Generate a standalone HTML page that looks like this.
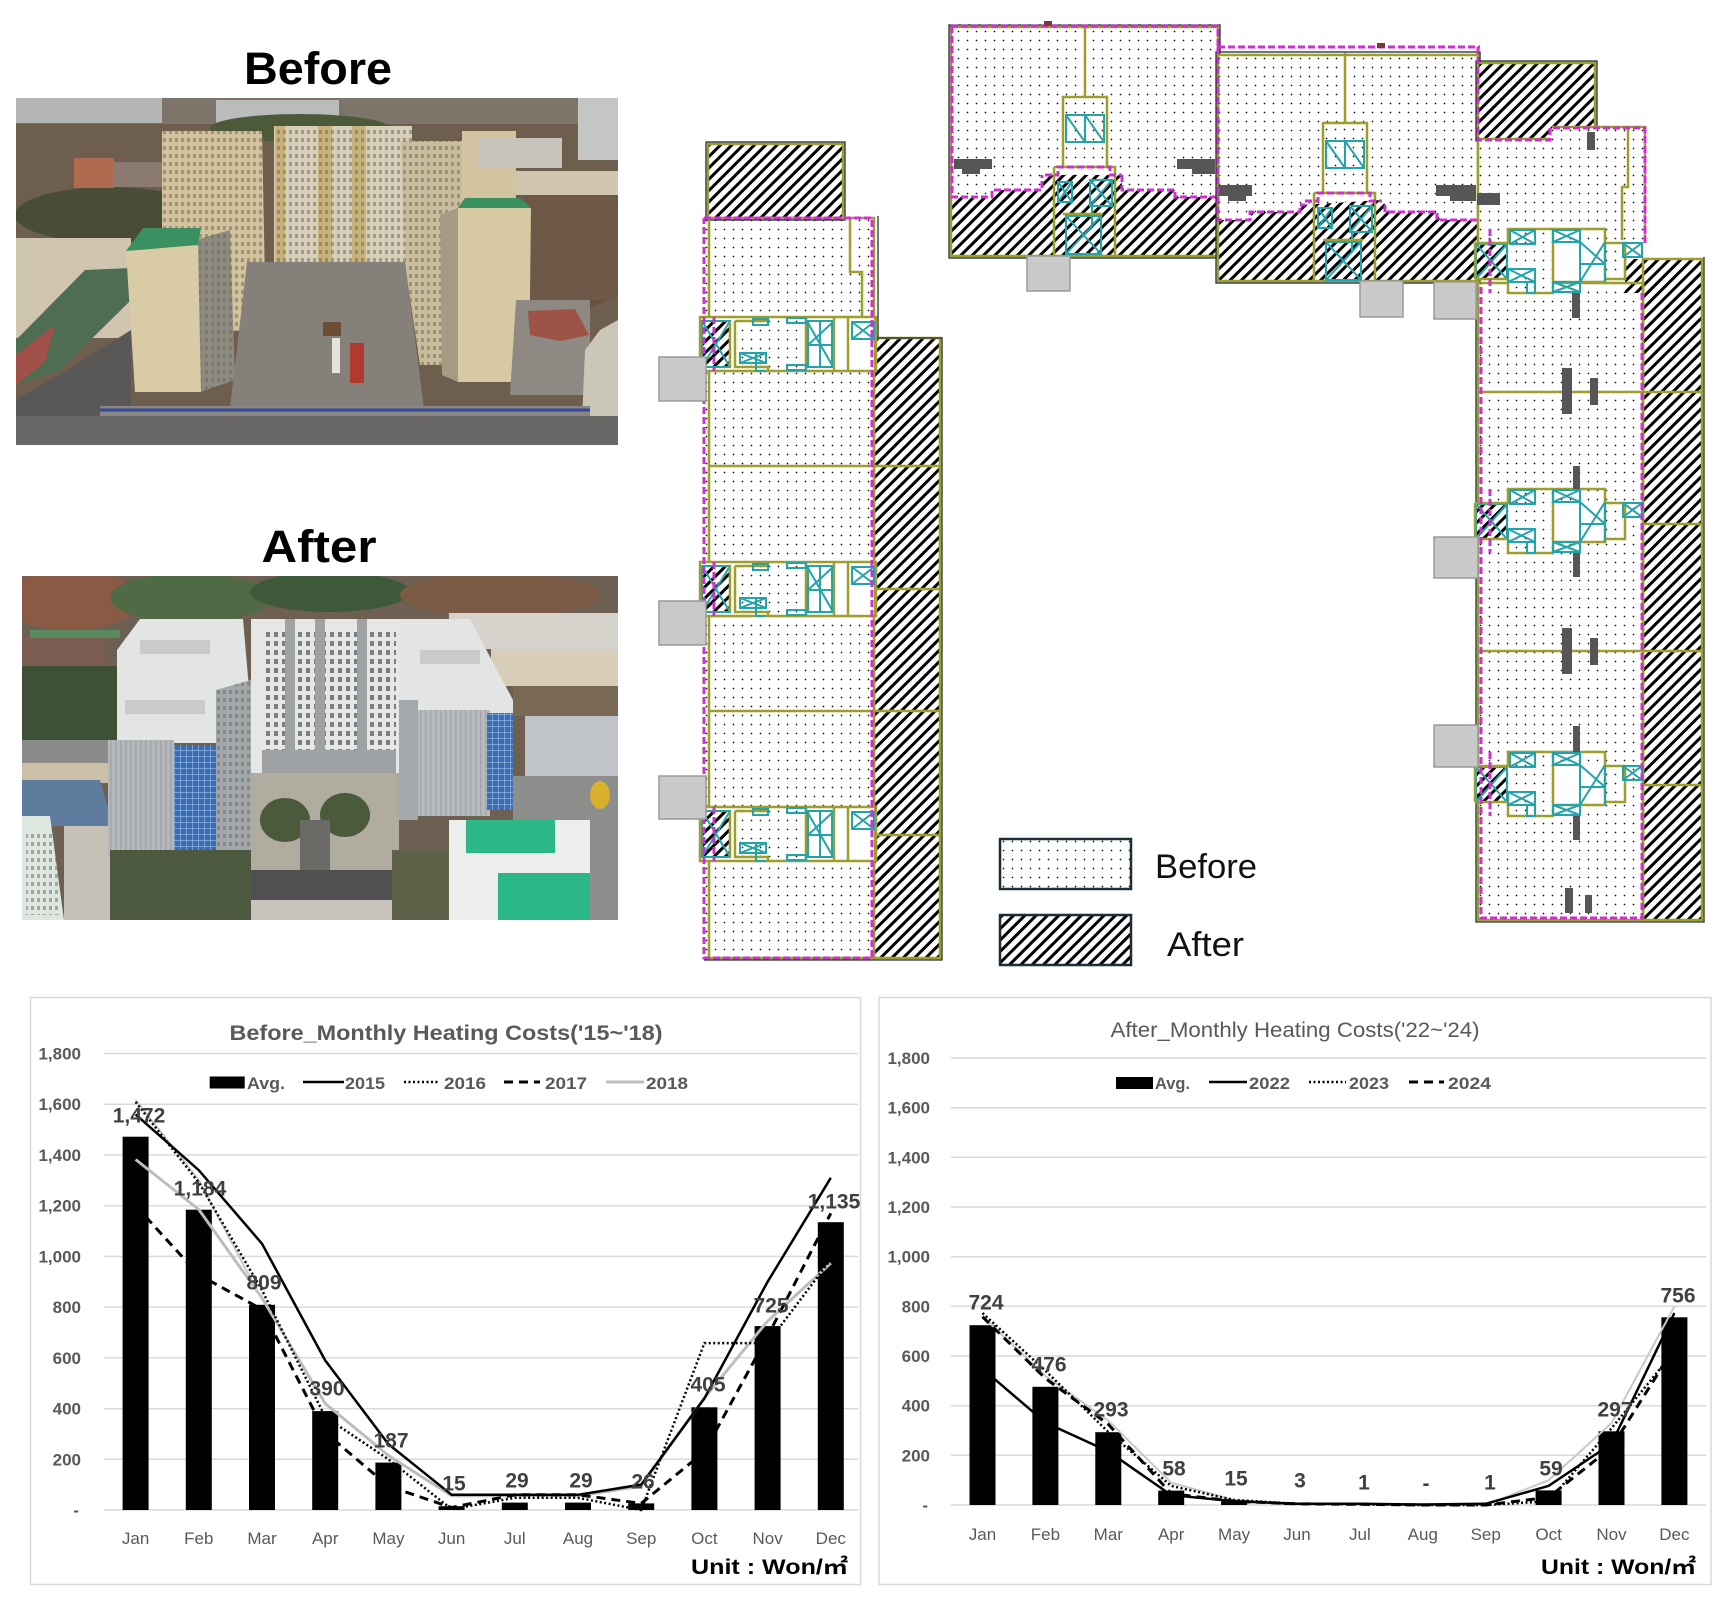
<!DOCTYPE html>
<html><head><meta charset="utf-8"><style>
html,body{margin:0;padding:0;background:#fff;}
svg{display:block;}
.ol{fill:none;stroke:#9e9e2c;stroke-width:2.5;}
.dk{fill:none;stroke:#1e3036;stroke-width:1.3;}
.mg{fill:none;stroke:#d02ed0;stroke-width:3;stroke-dasharray:7 3;}
.tl{fill:none;stroke:#23a3aa;stroke-width:2;}
.gb{fill:#c9c9c9;stroke:#9a9a9a;stroke-width:1.5;}
.br{fill:#565656;}
.yl{font-family:"Liberation Sans",sans-serif;font-size:17px;font-weight:bold;fill:#595959;text-anchor:end;}
.ml{font-family:"Liberation Sans",sans-serif;font-size:17px;fill:#595959;text-anchor:middle;}
.vl{font-family:"Liberation Sans",sans-serif;font-size:21px;font-weight:bold;fill:#404040;text-anchor:middle;}
.lg{font-family:"Liberation Sans",sans-serif;font-size:17px;font-weight:bold;fill:#595959;}
.gr{stroke:#d9d9d9;stroke-width:1.5;}
</style></head><body>
<svg width="1723" height="1603" viewBox="0 0 1723 1603" xmlns="http://www.w3.org/2000/svg">
<defs>
<pattern id="dots" width="9" height="9" patternUnits="userSpaceOnUse"><rect width="9" height="9" fill="#fff"/><circle cx="4.5" cy="4.5" r="0.85" fill="#111"/></pattern>
<pattern id="hatch" width="8" height="8" patternUnits="userSpaceOnUse" patternTransform="rotate(45)"><rect width="8" height="8" fill="#fff"/><rect x="2.5" y="0" width="3" height="8" fill="#000"/></pattern>
<pattern id="winB" width="6" height="8" patternUnits="userSpaceOnUse"><rect x="1" y="2" width="3" height="4" fill="#6a6660" opacity="0.5"/></pattern>
<pattern id="winA" width="8" height="9" patternUnits="userSpaceOnUse"><rect x="2" y="2" width="4" height="5" fill="#4e5358" opacity="0.7"/></pattern>
<pattern id="winG" width="6" height="6" patternUnits="userSpaceOnUse"><rect x="0" y="0" width="6" height="1" fill="#9cc0e8" opacity="0.6"/><rect x="0" y="0" width="1" height="6" fill="#9cc0e8" opacity="0.6"/></pattern>
<pattern id="strp" width="5" height="10" patternUnits="userSpaceOnUse"><rect x="0" y="0" width="1.5" height="10" fill="#8f9397" opacity="0.5"/></pattern>
<clipPath id="cp1"><rect x="16" y="98" width="602" height="347"/></clipPath>
<clipPath id="cp2"><rect x="22" y="576" width="596" height="344"/></clipPath>

<g id="coreL">
 <rect x="700" y="0" width="174" height="54" fill="#fff"/>
 <path d="M735 4H768V0H806V54H768V50H735Z" fill="url(#dots)"/>
 <rect x="702" y="4" width="28" height="46" fill="url(#hatch)"/>
 <path class="tl" d="M702 4H730V50H702Z M702 4L730 50 M730 4L702 50"/>
 <path class="ol" d="M700 0H876V54H700Z M730 4V50 M735 4H768V0 M735 4V50H768V54 M806 0V54 M834 0V54 M848 0V54"/>
 <path class="tl" d="M740 36H766V46H740Z M740 36L766 46 M766 36L740 46 M756 36V54H766 M753 2H768V8H753Z M787 1H806V6H787Z M787 48H806V53H787Z"/>
 <path class="tl" d="M808 4H832V50H808Z M808 6L832 48 M808 28H832 M820 4V50 M808 28L832 6"/>
 <rect x="852" y="5" width="22" height="17" fill="#fff"/>
 <path class="tl" d="M852 5H874V22H852Z M852 5L874 22 M874 5L852 22"/>
 <path class="mg" d="M714 0V54"/>
</g>

<g id="coreR">
 <rect x="1475" y="14" width="150" height="36" fill="#fff"/>
 <path d="M1508 0H1553V64H1508Z" fill="url(#dots)"/>
 <rect x="1605" y="14" width="18" height="36" fill="url(#dots)"/>
 <rect x="1476" y="15" width="31" height="35" fill="url(#hatch)"/>
 <path class="tl" d="M1476 15H1507V50H1476Z M1476 15L1507 50 M1507 15L1476 50"/>
 <path class="ol" d="M1475 14H1508V0H1605V14H1625V50H1605V53H1553 M1475 50H1508V64H1553V53 M1553 0V53 M1605 14V50 M1475 14V50"/>
 <path class="tl" d="M1510 1H1535V15H1510Z M1510 1L1535 15 M1535 1L1510 15 M1508 40H1535V53H1508Z M1508 40L1535 53 M1535 40L1508 53 M1527 53V64H1535V53"/>
 <path class="tl" d="M1553 1H1580V13H1553Z M1553 1L1580 13 M1580 1L1553 13 M1553 53H1580V63H1553Z M1553 53L1580 63 M1580 53L1553 63 M1580 13V53 M1605 13V53 M1580 53L1605 13 M1580 35H1605 M1580 13L1605 35"/>
 <path class="tl" d="M1623 14H1642V28H1623Z M1623 14L1642 28 M1642 14L1623 28"/>
 <path class="mg" d="M1490 0V64"/>
</g>

<g id="coreT">
 <rect x="1063" y="97" width="44" height="70" fill="url(#dots)"/>
 <path class="ol" d="M1063 97H1107V167H1063Z M1085 27V97 M1054 167H1115V256 M1054 167V256"/>
 <path class="tl" d="M1066 115H1104V142H1066Z M1066 115L1085 142 M1085 115L1104 142 M1085 115V142 M1066 142H1104"/>
 <path class="tl" d="M1058 182H1072V202H1058Z M1058 182L1072 202 M1072 182L1058 202"/>
 <path class="tl" d="M1090 180H1112V206H1090Z M1090 180L1112 206 M1112 180L1090 206 M1092 206V225"/>
 <path class="ol" d="M1063 214H1103"/>
 <path class="tl" d="M1066 216H1101V254H1066Z M1066 216L1101 254 M1101 216L1066 254"/>
 <path class="mg" d="M1045 175H1058V167H1110V175H1122"/>
</g>
</defs>

<!-- ================= PHOTO TITLES ================= -->
<text x="318" y="84" text-anchor="middle" font-family="Liberation Sans, sans-serif" font-size="45" font-weight="bold" fill="#000" textLength="148" lengthAdjust="spacingAndGlyphs">Before</text>
<text x="319" y="562" text-anchor="middle" font-family="Liberation Sans, sans-serif" font-size="45" font-weight="bold" fill="#000" textLength="115" lengthAdjust="spacingAndGlyphs">After</text>

<!-- ================= BEFORE PHOTO ================= -->
<g clip-path="url(#cp1)">
 <rect x="16" y="98" width="602" height="347" fill="#6e5e4e"/>
 <rect x="16" y="98" width="602" height="26" fill="#7d746a"/>
 <rect x="16" y="98" width="146" height="25" fill="#b4b6b4"/>
 <rect x="216" y="100" width="123" height="23" fill="#b9bcba"/>
 <rect x="578" y="98" width="40" height="62" fill="#c4c6c4"/>
 <ellipse cx="110" cy="215" rx="95" ry="28" fill="#4a4d35"/>
 <ellipse cx="300" cy="128" rx="90" ry="14" fill="#4d5a3a"/>
 <ellipse cx="570" cy="260" rx="60" ry="50" fill="#6a5040"/>
 <rect x="74" y="158" width="40" height="30" fill="#b06a50"/>
 <rect x="114" y="162" width="52" height="25" fill="#8a7a70"/>
 <rect x="16" y="238" width="115" height="100" fill="#d0c5ae"/>
 <polygon points="16,340 85,270 131,268 131,300 60,370 16,385" fill="#4f6d52"/>
 <polygon points="16,355 55,325 45,362 16,385" fill="#a05048"/>
 <polygon points="16,400 80,362 131,330 131,420 16,445" fill="#595857"/>
 <polygon points="162,131 262,131 266,331 200,331 162,240" fill="#d2c39c"/>
 <polygon points="162,131 262,131 266,331 200,331 162,240" fill="url(#winB)"/>
 <polygon points="196,240 230,230 235,380 200,392" fill="#8d8a80"/>
 <polygon points="196,240 230,230 235,380 200,392" fill="url(#winB)"/>
 <polygon points="126,251 198,245 201,392 135,392" fill="#d8cba6"/>
 <polygon points="143,228 201,228 198,245 126,251" fill="#3a9060"/>
 <rect x="274" y="126" width="138" height="139" fill="#d8cfb8"/>
 <rect x="275" y="126" width="10" height="139" fill="#c9b27a"/>
 <rect x="318" y="126" width="14" height="139" fill="#c9b27a"/>
 <rect x="352" y="126" width="14" height="139" fill="#c9b27a"/>
 <rect x="274" y="126" width="138" height="139" fill="url(#winB)"/>
 <polygon points="401,141 462,141 462,365 420,365 405,265" fill="#c9bd9c"/>
 <polygon points="401,141 462,141 462,365 420,365 405,265" fill="url(#winB)"/>
 <rect x="462" y="131" width="54" height="70" fill="#d2c49e"/>
 <rect x="478" y="138" width="84" height="30" fill="#c8c4bc"/>
 <rect x="516" y="171" width="102" height="24" fill="#d0c6b0"/>
 <rect x="516" y="195" width="102" height="105" fill="#6e5848"/>
 <polygon points="440,215 458,208 458,382 442,375" fill="#a59b82"/>
 <polygon points="458,208 531,208 529,382 458,382" fill="#d6c9a4"/>
 <polygon points="465,198 520,198 531,208 458,208" fill="#3a9060"/>
 <polygon points="247,262 405,262 424,408 230,408" fill="#858079"/>
 <polygon points="516,300 590,300 590,395 510,395" fill="#8e8983"/>
 <polygon points="528,311 575,309 589,335 560,341 530,335" fill="#9d5346"/>
 <rect x="350" y="343" width="14" height="40" fill="#b13a2f"/>
 <rect x="332" y="338" width="8" height="35" fill="#e6e3dc"/>
 <rect x="323" y="322" width="18" height="14" fill="#6b4d35"/>
 <polygon points="600,330 618,320 618,445 581,445 585,350" fill="#cac7b8"/>
 <rect x="100" y="406" width="490" height="10" fill="#8a8681"/>
 <line x1="100" y1="410" x2="590" y2="410" stroke="#36489a" stroke-width="3"/>
 <rect x="16" y="416" width="602" height="29" fill="#6a6866"/>
</g>

<!-- ================= AFTER PHOTO ================= -->
<g clip-path="url(#cp2)">
 <rect x="22" y="576" width="596" height="344" fill="#6d6052"/>
 <ellipse cx="70" cy="600" rx="70" ry="30" fill="#8a5a45"/>
 <ellipse cx="190" cy="598" rx="80" ry="25" fill="#4f6a45"/>
 <ellipse cx="330" cy="592" rx="80" ry="20" fill="#3f5a3a"/>
 <ellipse cx="500" cy="595" rx="100" ry="22" fill="#7a5a45"/>
 <rect x="22" y="636" width="84" height="37" fill="#7a5c50"/>
 <rect x="30" y="630" width="90" height="8" fill="#5a8a60"/>
 <rect x="22" y="666" width="114" height="77" fill="#3e5035"/>
 <rect x="22" y="740" width="90" height="23" fill="#8a8a88"/>
 <rect x="22" y="763" width="90" height="20" fill="#cbbfa8"/>
 <polygon points="22,780 100,780 113,826 22,826" fill="#5e7c9e"/>
 <polygon points="64,826 113,826 110,920 64,920" fill="#c6c2b8"/>
 <polygon points="22,816 50,816 64,920 22,920" fill="#dde6df"/>
 <rect x="26" y="830" width="32" height="85" fill="url(#winB)"/>
 <polygon points="117,650 140,619 243,619 250,700 243,743 117,743" fill="#e3e4e4"/>
 <rect x="140" y="640" width="70" height="14" fill="#c9cbcb"/>
 <rect x="125" y="700" width="80" height="14" fill="#c9cbcb"/>
 <polygon points="216,690 251,680 251,860 216,867" fill="#a3a8ab"/>
 <polygon points="216,690 251,680 251,860 216,867" fill="url(#winB)"/>
 <rect x="108" y="740" width="66" height="117" fill="#b5b8bb"/>
 <rect x="108" y="740" width="66" height="117" fill="url(#strp)"/>
 <rect x="174" y="745" width="42" height="122" fill="#3a6cb4"/>
 <rect x="174" y="745" width="42" height="122" fill="url(#winG)"/>
 <rect x="251" y="619" width="152" height="154" fill="#e6e6e5"/>
 <rect x="262" y="630" width="134" height="120" fill="url(#winA)"/>
 <rect x="262" y="750" width="134" height="23" fill="#9ea2a5"/>
 <rect x="285" y="619" width="10" height="154" fill="#9ea2a5"/>
 <rect x="315" y="619" width="10" height="154" fill="#9ea2a5"/>
 <rect x="357" y="619" width="10" height="154" fill="#9ea2a5"/>
 <rect x="449" y="613" width="169" height="36" fill="#d6d3cc"/>
 <rect x="491" y="649" width="127" height="37" fill="#d8cdb8"/>
 <rect x="513" y="686" width="105" height="30" fill="#7a6a55"/>
 <rect x="525" y="716" width="93" height="60" fill="#c0c4c8"/>
 <polygon points="513,776 618,776 618,840 580,860 513,820" fill="#8d8d8b"/>
 <ellipse cx="600" cy="795" rx="10" ry="14" fill="#d8b02a"/>
 <polygon points="399,619 470,619 513,700 513,713 418,713 399,700" fill="#e3e4e4"/>
 <rect x="420" y="650" width="60" height="14" fill="#c9cbcb"/>
 <rect x="399" y="700" width="19" height="120" fill="#a3a8ab"/>
 <rect x="418" y="710" width="72" height="106" fill="#b8bbbe"/>
 <rect x="418" y="710" width="72" height="106" fill="url(#strp)"/>
 <rect x="487" y="713" width="26" height="97" fill="#3b6db2"/>
 <rect x="487" y="713" width="26" height="97" fill="url(#winG)"/>
 <rect x="251" y="773" width="148" height="97" fill="#b0aca0"/>
 <ellipse cx="285" cy="820" rx="25" ry="22" fill="#4a5a3a"/>
 <ellipse cx="345" cy="815" rx="25" ry="22" fill="#4a5a3a"/>
 <rect x="300" y="820" width="30" height="50" fill="#6a6a66"/>
 <rect x="251" y="870" width="141" height="30" fill="#505050"/>
 <rect x="251" y="900" width="141" height="20" fill="#c8c4bc"/>
 <polygon points="110,850 251,850 251,920 110,920" fill="#4d5a40"/>
 <rect x="392" y="850" width="57" height="70" fill="#5d6248"/>
 <rect x="449" y="820" width="141" height="100" fill="#eceeed"/>
 <rect x="466" y="820" width="89" height="33" fill="#2cb886"/>
 <rect x="498" y="873" width="95" height="47" fill="#2cb886"/>
 <rect x="590" y="840" width="28" height="80" fill="#8d8d8b"/>
</g>

<!-- ================= FLOOR PLAN: LEFT WING ================= -->
<rect x="705" y="216" width="171" height="744" fill="url(#dots)"/>
<rect x="874" y="338" width="66" height="620" fill="url(#hatch)"/>
<rect x="708" y="144" width="135" height="74" fill="url(#hatch)"/>
<rect x="708" y="144" width="135" height="74" class="ol" stroke-width="3"/>
<rect x="706" y="142" width="139" height="78" class="dk"/>
<rect x="709" y="218" width="165" height="740" class="ol"/>
<rect x="874" y="338" width="66" height="620" class="ol"/>
<path class="dk" d="M942 337V960H704 M878 216V338H942"/>
<path class="ol" d="M709 466H940 M709 711H940 M874 589H940 M874 835H940 M850 218V272H862V318"/>
<use href="#coreL" y="317"/>
<use href="#coreL" y="562"/>
<use href="#coreL" y="807"/>
<path class="mg" d="M704 218H872V958H704V218"/>
<rect x="659" y="357" width="47" height="44" class="gb"/>
<rect x="659" y="601" width="47" height="44" class="gb"/>
<rect x="659" y="776" width="47" height="43" class="gb"/>

<!-- ================= FLOOR PLAN: TOP MIDDLE ================= -->
<rect x="951" y="27" width="267" height="229" fill="url(#dots)"/>
<polygon points="951,197 992,197 994,190 1042,190 1045,175 1122,175 1122,190 1175,190 1178,197 1218,197 1218,256 951,256" fill="url(#hatch)"/>
<rect x="951" y="27" width="267" height="229" class="ol"/>
<rect x="949" y="25" width="271" height="233" class="dk"/>
<rect x="954" y="159" width="38" height="10" class="br"/><rect x="962" y="168" width="18" height="6" class="br"/>
<rect x="1177" y="159" width="38" height="10" class="br"/><rect x="1192" y="168" width="23" height="6" class="br"/>
<use href="#coreT"/>
<path class="mg" d="M951 26H1218V47 M952 26V197H992V190H1042V175 M1122 175V190H1175V197H1218"/>
<rect x="1044" y="21" width="8" height="5" fill="#7a3a3a"/>

<rect x="1218" y="55" width="260" height="226" fill="url(#dots)"/>
<polygon points="1218,220 1250,220 1252,212 1300,212 1302,205 1382,200 1390,212 1437,212 1440,220 1478,220 1478,281 1218,281" fill="url(#hatch)"/>
<rect x="1218" y="55" width="260" height="226" class="ol"/>
<rect x="1216" y="52" width="264" height="231" class="dk"/>
<rect x="1218" y="185" width="34" height="11" class="br"/><rect x="1228" y="195" width="18" height="6" class="br"/>
<rect x="1436" y="185" width="40" height="11" class="br"/><rect x="1450" y="195" width="26" height="6" class="br"/>
<use href="#coreT" transform="translate(260,26)"/>
<path class="mg" d="M1218 47H1480 M1218 47V220H1250V212H1300V205H1305 M1385 205V212H1437V220H1478"/>
<rect x="1377" y="43" width="8" height="5" fill="#7a3a3a"/>
<rect x="1027" y="256" width="43" height="35" class="gb"/>
<rect x="1360" y="281" width="43" height="36" class="gb"/>

<!-- ================= FLOOR PLAN: RIGHT WING ================= -->
<rect x="1478" y="63" width="117" height="76" fill="url(#hatch)"/>
<rect x="1478" y="63" width="117" height="76" class="ol"/>
<rect x="1476" y="61" width="121" height="80" class="dk"/>
<polygon points="1478,140 1550,140 1552,127 1645,127 1645,243 1478,243" fill="url(#dots)"/>
<path class="ol" d="M1478 140V243 M1552 127H1645V243 M1628 127V187H1622V240"/>
<rect x="1478" y="283" width="165" height="637" fill="url(#dots)"/>
<rect x="1643" y="259" width="59" height="661" fill="url(#hatch)"/>
<rect x="1625" y="259" width="20" height="34" fill="url(#hatch)"/>
<rect x="1478" y="283" width="165" height="637" class="ol"/>
<rect x="1643" y="259" width="59" height="661" class="ol"/>
<path class="dk" d="M1704 257V922H1476V283"/>
<path class="ol" d="M1478 392H1702 M1478 651H1702 M1643 524H1702 M1643 785H1702"/>
<use href="#coreR" y="229"/>
<use href="#coreR" y="489"/>
<use href="#coreR" y="752"/>
<path class="mg" d="M1478 47V140H1550V128H1645V243 M1642 293V918H1481V283"/>
<rect x="1587" y="132" width="8" height="18" class="br"/>
<rect x="1477" y="193" width="23" height="12" class="br"/>
<rect x="1572" y="293" width="8" height="25" class="br"/>
<rect x="1562" y="368" width="10" height="46" class="br"/>
<rect x="1590" y="378" width="8" height="27" class="br"/>
<rect x="1573" y="466" width="7" height="23" class="br"/>
<rect x="1573" y="553" width="7" height="24" class="br"/>
<rect x="1562" y="628" width="10" height="46" class="br"/>
<rect x="1590" y="638" width="8" height="27" class="br"/>
<rect x="1573" y="726" width="7" height="26" class="br"/>
<rect x="1573" y="816" width="7" height="24" class="br"/>
<rect x="1565" y="888" width="8" height="25" class="br"/>
<rect x="1585" y="895" width="7" height="18" class="br"/>
<rect x="1434" y="282" width="42" height="37" class="gb"/>
<rect x="1434" y="537" width="44" height="41" class="gb"/>
<rect x="1434" y="725" width="44" height="42" class="gb"/>

<!-- ================= PLAN LEGEND ================= -->
<rect x="1000" y="839" width="131" height="50" fill="url(#dots)" stroke="#1d2e36" stroke-width="2.5"/>
<rect x="1000" y="915" width="131" height="50" fill="url(#hatch)" stroke="#1d2e36" stroke-width="2.5"/>
<text x="1155" y="878" font-family="Liberation Sans, sans-serif" font-size="34" fill="#111" textLength="102" lengthAdjust="spacingAndGlyphs">Before</text>
<text x="1167" y="956" font-family="Liberation Sans, sans-serif" font-size="34" fill="#111" textLength="77" lengthAdjust="spacingAndGlyphs">After</text>

<!-- ================= CHART 1 ================= -->
<rect x="30.5" y="997.5" width="830" height="587" fill="#fff" stroke="#d9d9d9" stroke-width="1.5"/>
<text x="446" y="1040" text-anchor="middle" font-family="Liberation Sans, sans-serif" font-size="21" font-weight="bold" fill="#595959" textLength="433" lengthAdjust="spacingAndGlyphs">Before_Monthly Heating Costs('15~'18)</text>
<g class="gr">
<line x1="104" y1="1053.5" x2="858" y2="1053.5"/><line x1="104" y1="1104.2" x2="858" y2="1104.2"/><line x1="104" y1="1155" x2="858" y2="1155"/><line x1="104" y1="1205.7" x2="858" y2="1205.7"/><line x1="104" y1="1256.4" x2="858" y2="1256.4"/><line x1="104" y1="1307.1" x2="858" y2="1307.1"/><line x1="104" y1="1357.8" x2="858" y2="1357.8"/><line x1="104" y1="1408.6" x2="858" y2="1408.6"/><line x1="104" y1="1459.3" x2="858" y2="1459.3"/><line x1="104" y1="1510" x2="858" y2="1510"/>
</g>
<text class="yl" x="81" y="1059.5">1,800</text><text class="yl" x="81" y="1110.2">1,600</text><text class="yl" x="81" y="1161">1,400</text><text class="yl" x="81" y="1211.7">1,200</text><text class="yl" x="81" y="1262.4">1,000</text><text class="yl" x="81" y="1313.1">800</text><text class="yl" x="81" y="1363.8">600</text><text class="yl" x="81" y="1414.6">400</text><text class="yl" x="81" y="1465.3">200</text><text class="yl" x="79" y="1516">-</text>
<rect x="209.7" y="1076.5" width="35" height="12" fill="#000"/>
<text class="lg" x="247" y="1089" textLength="38" lengthAdjust="spacingAndGlyphs">Avg.</text>
<line x1="303" y1="1082" x2="344" y2="1082" stroke="#000" stroke-width="2.5"/>
<text class="lg" x="345" y="1089" textLength="40" lengthAdjust="spacingAndGlyphs">2015</text>
<line x1="404" y1="1082" x2="440" y2="1082" stroke="#000" stroke-width="2.5" stroke-dasharray="2 2.5"/>
<text class="lg" x="444" y="1089" textLength="42" lengthAdjust="spacingAndGlyphs">2016</text>
<line x1="504" y1="1082" x2="540" y2="1082" stroke="#000" stroke-width="3" stroke-dasharray="9 6"/>
<text class="lg" x="545" y="1089" textLength="42" lengthAdjust="spacingAndGlyphs">2017</text>
<line x1="606" y1="1082" x2="644" y2="1082" stroke="#bdbdbd" stroke-width="3"/>
<text class="lg" x="646" y="1089" textLength="42" lengthAdjust="spacingAndGlyphs">2018</text>
<g fill="#000">
<rect x="122.6" y="1136.7" width="26" height="373.3"/><rect x="185.8" y="1209.7" width="26" height="300.3"/><rect x="249" y="1304.8" width="26" height="205.2"/><rect x="312.2" y="1411.1" width="26" height="98.9"/><rect x="375.4" y="1462.6" width="26" height="47.4"/><rect x="438.6" y="1506.2" width="26" height="3.8"/><rect x="501.8" y="1502.6" width="26" height="7.4"/><rect x="565" y="1502.6" width="26" height="7.4"/><rect x="628.2" y="1503.4" width="26" height="6.6"/><rect x="691.4" y="1407.3" width="26" height="102.7"/><rect x="754.6" y="1326.1" width="26" height="183.9"/><rect x="817.8" y="1222.2" width="26" height="287.8"/>
</g>
<polyline fill="none" stroke="#bdbdbd" stroke-width="3" points="135.6,1159.5 198.8,1209.5 262,1298 325.2,1403.5 388.4,1455.5 451.6,1495.8 514.8,1495.8 578,1495.8 641.2,1486.2 704.4,1397.9 767.6,1321.1 830.8,1263.2"/>
<polyline fill="none" stroke="#c8c8c8" stroke-width="2" points="135.6,1100 198.8,1180 262,1300"/>
<polyline fill="none" stroke="#000" stroke-width="2.5" points="135.6,1114.4 198.8,1170.2 262,1243.7 325.2,1360.4 388.4,1444.1 451.6,1494.8 514.8,1494.8 578,1494.8 641.2,1484.6 704.4,1398.4 767.6,1281.8 830.8,1177.8"/>
<polyline fill="none" stroke="#000" stroke-width="2.5" stroke-dasharray="2 2.5" points="135.6,1102 198.8,1182.6 262,1290.1 325.2,1416.9 388.4,1459.3 451.6,1509.2 514.8,1497.8 578,1497.8 641.2,1510 704.4,1343.1 767.6,1343.1 830.8,1259.4"/>
<polyline fill="none" stroke="#000" stroke-width="3" stroke-dasharray="9 6" points="135.6,1205.7 198.8,1274.9 262,1309.4 325.2,1432.4 388.4,1486.2 451.6,1507.5 514.8,1494.8 578,1494.8 641.2,1503.4 704.4,1451.7 767.6,1336.3 830.8,1213.3"/>
<text class="vl" x="139" y="1122.5">1,472</text><text class="vl" x="200" y="1195.5">1,184</text><text class="vl" x="264" y="1289.5">809</text><text class="vl" x="327" y="1395.5">390</text><text class="vl" x="391" y="1447.5">187</text><text class="vl" x="454" y="1490.5">15</text><text class="vl" x="517" y="1487.5">29</text><text class="vl" x="581" y="1487.5">29</text><text class="vl" x="643" y="1488.5">26</text><text class="vl" x="708" y="1391.5">405</text><text class="vl" x="771" y="1312.5">725</text><text class="vl" x="834" y="1208.5">1,135</text>
<text class="ml" x="135.6" y="1544">Jan</text><text class="ml" x="198.8" y="1544">Feb</text><text class="ml" x="262" y="1544">Mar</text><text class="ml" x="325.2" y="1544">Apr</text><text class="ml" x="388.4" y="1544">May</text><text class="ml" x="451.6" y="1544">Jun</text><text class="ml" x="514.8" y="1544">Jul</text><text class="ml" x="578" y="1544">Aug</text><text class="ml" x="641.2" y="1544">Sep</text><text class="ml" x="704.4" y="1544">Oct</text><text class="ml" x="767.6" y="1544">Nov</text><text class="ml" x="830.8" y="1544">Dec</text>
<text x="691" y="1574" font-family="Liberation Sans, Noto Sans CJK KR, sans-serif" font-size="21" font-weight="bold" fill="#000" textLength="157" lengthAdjust="spacingAndGlyphs">Unit : Won/㎡</text>

<!-- ================= CHART 2 ================= -->
<rect x="879" y="997.5" width="832" height="587" fill="#fff" stroke="#d9d9d9" stroke-width="1.5"/>
<text x="1295" y="1037" text-anchor="middle" font-family="Liberation Sans, sans-serif" font-size="21" fill="#595959" textLength="369" lengthAdjust="spacingAndGlyphs">After_Monthly Heating Costs('22~'24)</text>
<g class="gr">
<line x1="951" y1="1058" x2="1706" y2="1058"/><line x1="951" y1="1107.7" x2="1706" y2="1107.7"/><line x1="951" y1="1157.3" x2="1706" y2="1157.3"/><line x1="951" y1="1207" x2="1706" y2="1207"/><line x1="951" y1="1256.7" x2="1706" y2="1256.7"/><line x1="951" y1="1306.3" x2="1706" y2="1306.3"/><line x1="951" y1="1356" x2="1706" y2="1356"/><line x1="951" y1="1405.7" x2="1706" y2="1405.7"/><line x1="951" y1="1455.3" x2="1706" y2="1455.3"/><line x1="951" y1="1505" x2="1706" y2="1505"/>
</g>
<text class="yl" x="930" y="1064">1,800</text><text class="yl" x="930" y="1113.7">1,600</text><text class="yl" x="930" y="1163.3">1,400</text><text class="yl" x="930" y="1213">1,200</text><text class="yl" x="930" y="1262.7">1,000</text><text class="yl" x="930" y="1312.3">800</text><text class="yl" x="930" y="1362">600</text><text class="yl" x="930" y="1411.7">400</text><text class="yl" x="930" y="1461.3">200</text><text class="yl" x="928" y="1511">-</text>
<rect x="1116" y="1077" width="37" height="12" fill="#000"/>
<text class="lg" x="1155" y="1089" textLength="35" lengthAdjust="spacingAndGlyphs">Avg.</text>
<line x1="1209" y1="1082" x2="1247" y2="1082" stroke="#000" stroke-width="2.5"/>
<text class="lg" x="1249" y="1089" textLength="41" lengthAdjust="spacingAndGlyphs">2022</text>
<line x1="1309" y1="1082" x2="1346" y2="1082" stroke="#000" stroke-width="2.5" stroke-dasharray="2 2.5"/>
<text class="lg" x="1349" y="1089" textLength="40" lengthAdjust="spacingAndGlyphs">2023</text>
<line x1="1409" y1="1082" x2="1444" y2="1082" stroke="#000" stroke-width="3" stroke-dasharray="9 6"/>
<text class="lg" x="1448" y="1089" textLength="43" lengthAdjust="spacingAndGlyphs">2024</text>
<g fill="#000">
<rect x="969.5" y="1325.2" width="26" height="179.8"/><rect x="1032.4" y="1386.8" width="26" height="118.2"/><rect x="1095.3" y="1432.2" width="26" height="72.8"/><rect x="1158.2" y="1490.6" width="26" height="14.4"/><rect x="1221.1" y="1501.3" width="26" height="3.7"/><rect x="1284" y="1504" width="26" height="1"/><rect x="1535.6" y="1490.4" width="26" height="14.6"/><rect x="1598.5" y="1431.3" width="26" height="73.7"/><rect x="1661.4" y="1317.3" width="26" height="187.7"/>
</g>
<polyline fill="none" stroke="#c8c8c8" stroke-width="2" points="982.5,1316.3 1045.4,1375.9 1108.3,1420.6 1171.2,1482.7 1234.1,1500 1297,1503.8 1359.9,1504.3 1422.8,1505 1485.7,1505 1548.6,1480.2 1611.5,1423.1 1674.4,1306.4"/>
<polyline fill="none" stroke="#000" stroke-width="2.5" points="982.5,1368.7 1045.4,1422.6 1108.3,1451.4 1171.2,1495.1 1234.1,1501.3 1297,1503.8 1359.9,1503.8 1422.8,1504.5 1485.7,1503.8 1548.6,1485.9 1611.5,1443.7 1674.4,1313.1"/>
<polyline fill="none" stroke="#000" stroke-width="2.5" stroke-dasharray="2 2.5" points="982.5,1313.1 1045.4,1370.7 1108.3,1432 1171.2,1485.9 1234.1,1500 1297,1503.8 1359.9,1504.3 1422.8,1505 1485.7,1505 1548.6,1501.3 1611.5,1428.3 1674.4,1351.3"/>
<polyline fill="none" stroke="#000" stroke-width="3" stroke-dasharray="9 6" points="982.5,1316.8 1045.4,1378.4 1108.3,1424.3 1171.2,1493.6 1234.1,1501.3 1297,1503.8 1359.9,1504.3 1422.8,1505 1485.7,1505 1548.6,1497.3 1611.5,1447.4 1674.4,1347.6"/>
<text class="vl" x="986" y="1309.5">724</text><text class="vl" x="1049" y="1371.5">476</text><text class="vl" x="1111" y="1416.5">293</text><text class="vl" x="1174" y="1475.5">58</text><text class="vl" x="1236" y="1485.5">15</text><text class="vl" x="1300" y="1487.5">3</text><text class="vl" x="1364" y="1489.5">1</text><text class="vl" x="1426" y="1490.5">-</text><text class="vl" x="1490" y="1489.5">1</text><text class="vl" x="1551" y="1475.5">59</text><text class="vl" x="1615" y="1416.5">297</text><text class="vl" x="1678" y="1302.5">756</text>
<text class="ml" x="982.5" y="1540">Jan</text><text class="ml" x="1045.4" y="1540">Feb</text><text class="ml" x="1108.3" y="1540">Mar</text><text class="ml" x="1171.2" y="1540">Apr</text><text class="ml" x="1234.1" y="1540">May</text><text class="ml" x="1297" y="1540">Jun</text><text class="ml" x="1359.9" y="1540">Jul</text><text class="ml" x="1422.8" y="1540">Aug</text><text class="ml" x="1485.7" y="1540">Sep</text><text class="ml" x="1548.6" y="1540">Oct</text><text class="ml" x="1611.5" y="1540">Nov</text><text class="ml" x="1674.4" y="1540">Dec</text>
<text x="1541" y="1574" font-family="Liberation Sans, Noto Sans CJK KR, sans-serif" font-size="21" font-weight="bold" fill="#000" textLength="155" lengthAdjust="spacingAndGlyphs">Unit : Won/㎡</text>
</svg>
</body></html>
